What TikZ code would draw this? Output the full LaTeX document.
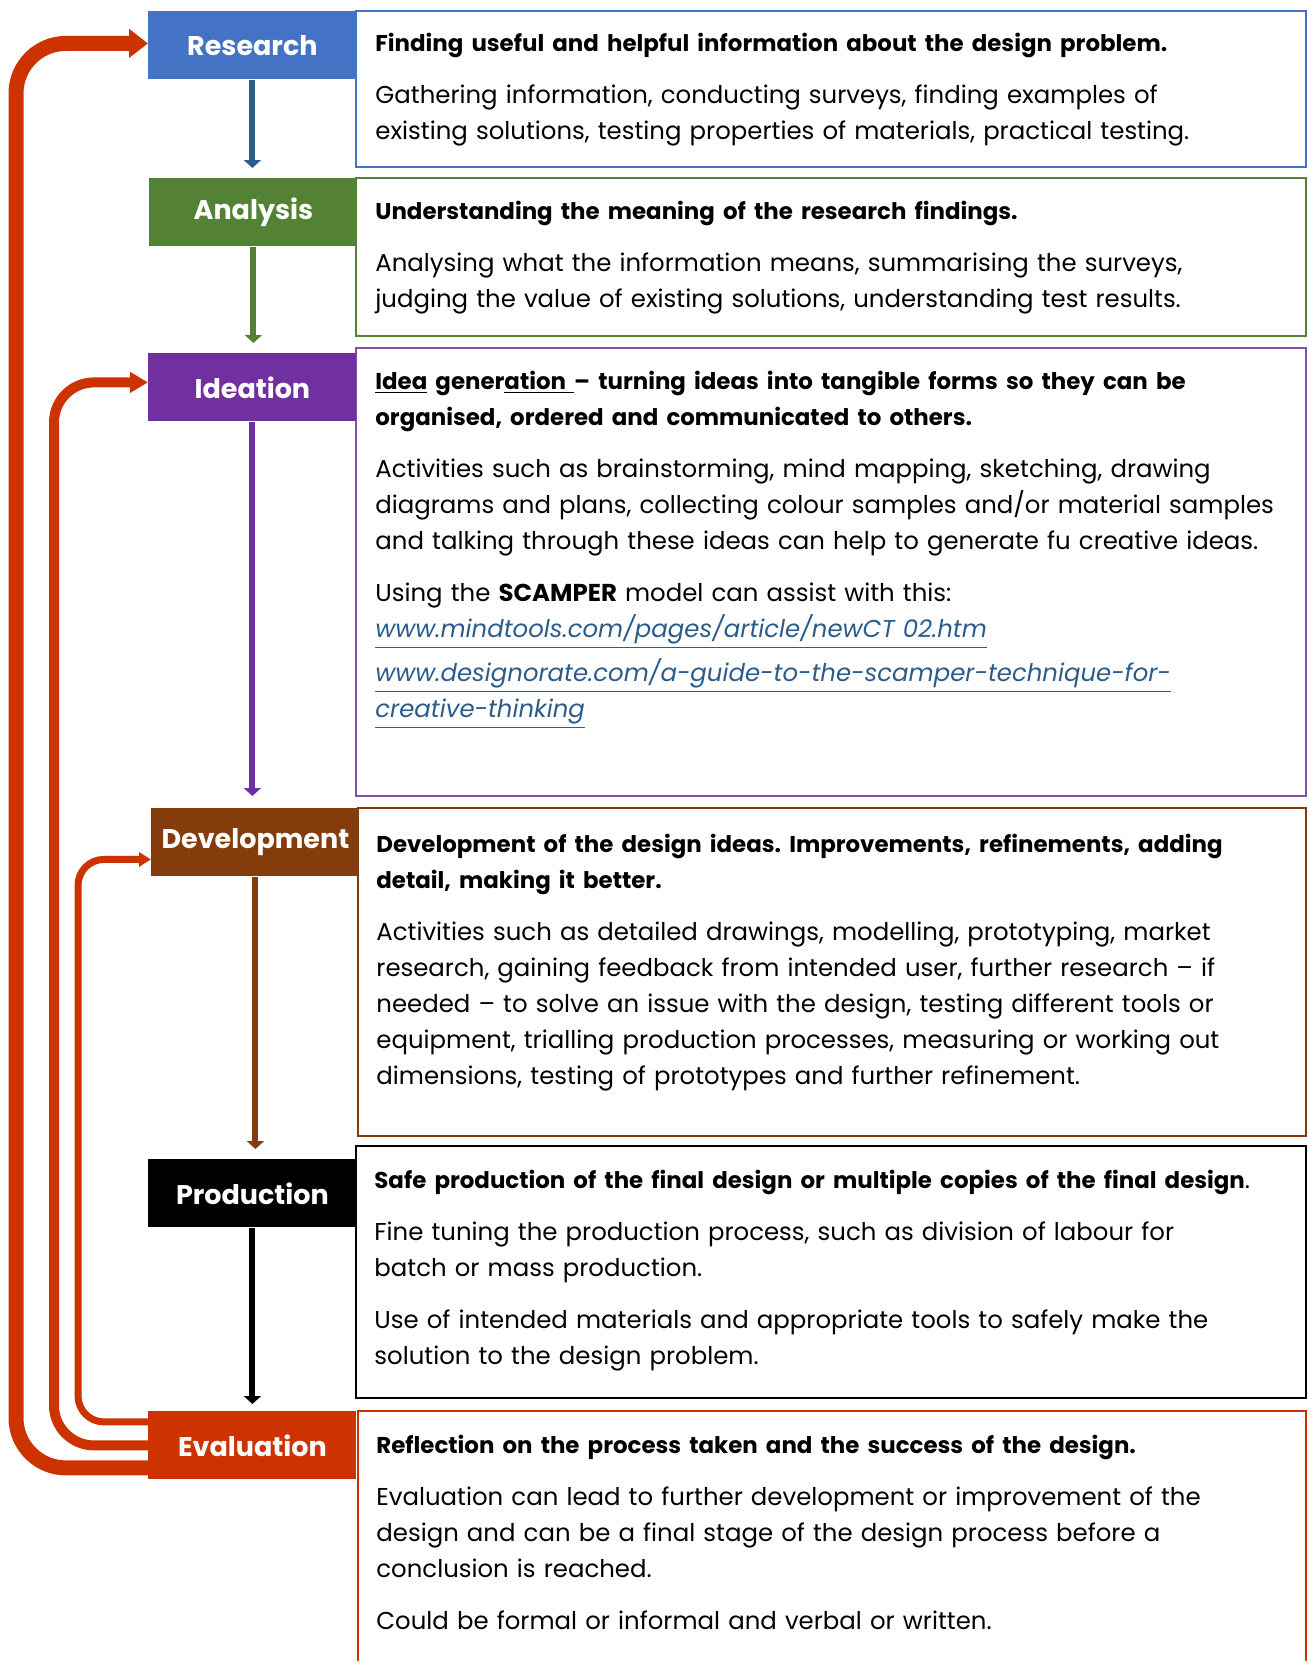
\documentclass[tikz,border=0pt]{standalone}
\usepackage{fontspec}
\setmainfont{Poppins}
\usetikzlibrary{arrows.meta}
\frenchspacing

\definecolor{resblue}{HTML}{4472C4}
\definecolor{resarrow}{HTML}{2E5C8A}
\definecolor{anagreen}{HTML}{548235}
\definecolor{ideapurple}{HTML}{7030A0}
\definecolor{devbrown}{HTML}{843C0C}
\definecolor{evalred}{HTML}{CC3300}
\definecolor{linkblue}{HTML}{2B5C8A}

\newcommand{\hd}[1]{{\fontsize{11.45}{18}\selectfont\bfseries #1}}

\tikzset{
  stage/.style={anchor=north west, minimum width=104pt, minimum height=34pt, inner sep=0pt,
    text=white, font=\fontsize{13.5}{18}\selectfont\bfseries},
  infotext/.style={anchor=north west, inner sep=0pt, align=left, text width=475pt,
    font=\fontsize{12.2}{18}\selectfont},
  flow/.style={line width=3pt, -{Triangle[length=4pt,width=8.5pt]}},
  loopout/.style={draw=evalred, line width=7.5pt, rounded corners=25pt, -{Triangle[length=9.5pt,width=14pt]}},
  loopmid/.style={draw=evalred, line width=5pt, rounded corners=20pt, -{Triangle[length=9pt,width=10pt]}},
  loopin/.style={draw=evalred, line width=3.5pt, rounded corners=13pt, -{Triangle[length=6pt,width=7pt]}}
}

\begin{document}
\begin{tikzpicture}[x=0.5pt, y=-0.5pt]
		%%%%% START %%%%%
		\useasboundingbox (0,0) rectangle (1309,1661);
		
		\draw[line width=1pt, draw=resblue] (356,11) rectangle (1306,167);
		\draw[line width=1pt, draw=anagreen] (356,178) rectangle (1306,336);
		\draw[line width=1pt, draw=ideapurple!85] (356,348) rectangle (1306,796);
		\draw[line width=1pt, draw=devbrown] (358,808) rectangle (1306,1136);
		\draw[line width=1pt, draw=black] (356,1146) rectangle (1306,1398);
		\draw[line width=1pt, draw=evalred] (358,1411) rectangle (1306,1690);
		
		\node[stage, fill=resblue] (research) at (148,11) {Research};
		\node[stage, fill=anagreen] (analysis) at (149,178) {Analysis};
		\node[stage, fill=ideapurple] (ideation) at (148,353) {Ideation};
		\node[stage, fill=devbrown] (development) at (151,808) {Development};
		\node[stage, fill=black] (production) at (148,1159) {Production};
		\node[stage, fill=evalred] (evaluation) at (148,1411) {Evaluation};
		
		\draw[flow, draw=resarrow, shorten >=5pt] (research.south) -- (research.south |- analysis.north);
		\draw[flow, draw=anagreen, shorten >=5pt] (analysis.south) -- (analysis.south |- ideation.north);
		\draw[flow, draw=ideapurple, shorten >=6pt] (ideation.south) -- (ideation.south |- development.north);
		\draw[flow, draw=devbrown, shorten >=5pt] (development.south) -- (development.south |- production.north);
		\draw[flow, draw=black, shorten >=3.5pt] (production.south) -- (production.south |- evaluation.north);
		
		\draw[loopout] ([yshift=-11.25pt]evaluation.west) -- ++(-132,0) |- ([yshift=1pt]research.west);
		\draw[loopmid] (evaluation.west) -- ++(-94,0) |- ([yshift=2.5pt]ideation.west);
		\draw[loopin] ([yshift=11.75pt]evaluation.west) -- ++(-70,0) |- ([yshift=-8.5pt]development.west);
		
		\node[infotext] (restext) at (375,33) {\hd{Finding useful and helpful information about the design problem.}\\[8pt]
			Gathering information, conducting surveys, finding examples of\\
			existing solutions, testing properties of materials, practical testing.};
		
		\node[infotext] (anatext) at (375,201) {\hd{Understanding the meaning of the research findings.}\\[8pt]
			Analysing what the information means, summarising the surveys,\\
			judging the value of existing solutions, understanding test results.};
		
		\node[infotext] (ideatext) at (375,371) {\hd{\underline{Idea} gener\underline{ation\ }-- turning ideas into tangible forms so they can be}\\
			\hd{organised, ordered and communicated to others.}\\[8pt]
			Activities such as brainstorming, mind mapping, sketching, drawing\\
			diagrams and plans, collecting colour samples and/or material samples\\
			and talking through these ideas can help to generate fu creative ideas.\\[8pt]
			Using the \textbf{SCAMPER} model can assist with this:\\
			{\color{linkblue}\itshape\underline{www.mindtools.com/pages/article/newCT 02.htm}}\\[4pt]
			{\color{linkblue}\itshape\underline{www.designorate.com/a-guide-to-the-scamper-technique-for-}}\\
			{\color{linkblue}\itshape\underline{creative-thinking}}};
		
		\node[infotext] (devtext) at (376,834) {\hd{Development of the design ideas. Improvements, refinements, adding}\\
			\hd{detail, making it better.}\\[8pt]
			Activities such as detailed drawings, modelling, prototyping, market\\
			research, gaining feedback from intended user, further research -- if\\
			needed -- to solve an issue with the design, testing different tools or\\
			equipment, trialling production processes, measuring or working out\\
			dimensions, testing of prototypes and further refinement.};
		
		\node[infotext] (prodtext) at (374,1170) {\hd{Safe production of the final design or multiple copies of the final design}.\\[8pt]
			Fine tuning the production process, such as division of labour for\\
			batch or mass production.\\[8pt]
			Use of intended materials and appropriate tools to safely make the\\
			solution to the design problem.};
		
		\node[infotext] (evaltext) at (376,1435) {\hd{Reflection on the process taken and the success of the design.}\\[8pt]
			Evaluation can lead to further development or improvement of the\\
			design and can be a final stage of the design process before a\\
			conclusion is reached.\\[8pt]
			Could be formal or informal and verbal or written.};
		
		%%%%% END %%%%%
\end{tikzpicture}
\end{document}
